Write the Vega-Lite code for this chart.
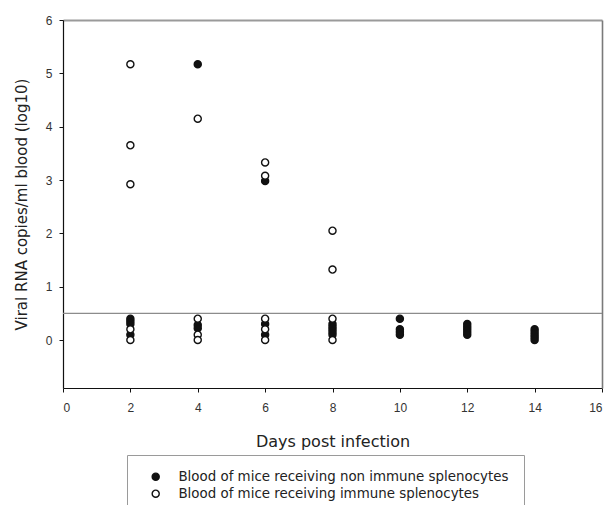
{
  "$schema": "https://vega.github.io/schema/vega-lite/v6.json",
  "width": 539,
  "height": 368,
  "autosize": {"type": "none"},
  "padding": {"left": 63, "top": 20, "right": 10, "bottom": 117},
  "background": "white",
  "config": {
    "font": "Liberation Sans",
    "view": {"stroke": null},
    "axis": {
      "domainColor": "#111",
      "domainWidth": 1.2,
      "tickColor": "#111",
      "tickSize": 4,
      "grid": false,
      "labelFont": "Liberation Sans",
      "labelFontSize": 12,
      "labelColor": "#333",
      "titleFont": "DejaVu Sans",
      "titleFontSize": 16,
      "titleFontWeight": "normal",
      "titleColor": "#222"
    }
  },
  "resolve": {"axis": {"x": "independent", "y": "independent"}},
  "datasets": {
    "viremia": [
      {"day": 4, "rna": 5.17, "group": "Blood of mice receiving non immune splenocytes"},
      {"day": 6, "rna": 2.98, "group": "Blood of mice receiving non immune splenocytes"},
      {"day": 2, "rna": 0.4, "group": "Blood of mice receiving non immune splenocytes"},
      {"day": 2, "rna": 0.35, "group": "Blood of mice receiving non immune splenocytes"},
      {"day": 2, "rna": 0.3, "group": "Blood of mice receiving non immune splenocytes"},
      {"day": 2, "rna": 0.1, "group": "Blood of mice receiving non immune splenocytes"},
      {"day": 4, "rna": 0.28, "group": "Blood of mice receiving non immune splenocytes"},
      {"day": 4, "rna": 0.22, "group": "Blood of mice receiving non immune splenocytes"},
      {"day": 6, "rna": 0.3, "group": "Blood of mice receiving non immune splenocytes"},
      {"day": 6, "rna": 0.1, "group": "Blood of mice receiving non immune splenocytes"},
      {"day": 8, "rna": 0.3, "group": "Blood of mice receiving non immune splenocytes"},
      {"day": 8, "rna": 0.25, "group": "Blood of mice receiving non immune splenocytes"},
      {"day": 8, "rna": 0.2, "group": "Blood of mice receiving non immune splenocytes"},
      {"day": 8, "rna": 0.15, "group": "Blood of mice receiving non immune splenocytes"},
      {"day": 8, "rna": 0.1, "group": "Blood of mice receiving non immune splenocytes"},
      {"day": 10, "rna": 0.4, "group": "Blood of mice receiving non immune splenocytes"},
      {"day": 10, "rna": 0.2, "group": "Blood of mice receiving non immune splenocytes"},
      {"day": 10, "rna": 0.15, "group": "Blood of mice receiving non immune splenocytes"},
      {"day": 10, "rna": 0.1, "group": "Blood of mice receiving non immune splenocytes"},
      {"day": 12, "rna": 0.3, "group": "Blood of mice receiving non immune splenocytes"},
      {"day": 12, "rna": 0.25, "group": "Blood of mice receiving non immune splenocytes"},
      {"day": 12, "rna": 0.2, "group": "Blood of mice receiving non immune splenocytes"},
      {"day": 12, "rna": 0.15, "group": "Blood of mice receiving non immune splenocytes"},
      {"day": 12, "rna": 0.1, "group": "Blood of mice receiving non immune splenocytes"},
      {"day": 14, "rna": 0.2, "group": "Blood of mice receiving non immune splenocytes"},
      {"day": 14, "rna": 0.15, "group": "Blood of mice receiving non immune splenocytes"},
      {"day": 14, "rna": 0.1, "group": "Blood of mice receiving non immune splenocytes"},
      {"day": 14, "rna": 0.05, "group": "Blood of mice receiving non immune splenocytes"},
      {"day": 14, "rna": 0.0, "group": "Blood of mice receiving non immune splenocytes"},
      {"day": 2, "rna": 5.17, "group": "Blood of mice receiving immune splenocytes"},
      {"day": 2, "rna": 3.65, "group": "Blood of mice receiving immune splenocytes"},
      {"day": 2, "rna": 2.92, "group": "Blood of mice receiving immune splenocytes"},
      {"day": 4, "rna": 4.15, "group": "Blood of mice receiving immune splenocytes"},
      {"day": 6, "rna": 3.33, "group": "Blood of mice receiving immune splenocytes"},
      {"day": 6, "rna": 3.08, "group": "Blood of mice receiving immune splenocytes"},
      {"day": 8, "rna": 2.05, "group": "Blood of mice receiving immune splenocytes"},
      {"day": 8, "rna": 1.32, "group": "Blood of mice receiving immune splenocytes"},
      {"day": 2, "rna": 0.2, "group": "Blood of mice receiving immune splenocytes"},
      {"day": 2, "rna": 0.0, "group": "Blood of mice receiving immune splenocytes"},
      {"day": 4, "rna": 0.4, "group": "Blood of mice receiving immune splenocytes"},
      {"day": 4, "rna": 0.1, "group": "Blood of mice receiving immune splenocytes"},
      {"day": 4, "rna": 0.0, "group": "Blood of mice receiving immune splenocytes"},
      {"day": 6, "rna": 0.4, "group": "Blood of mice receiving immune splenocytes"},
      {"day": 6, "rna": 0.2, "group": "Blood of mice receiving immune splenocytes"},
      {"day": 6, "rna": 0.0, "group": "Blood of mice receiving immune splenocytes"},
      {"day": 8, "rna": 0.4, "group": "Blood of mice receiving immune splenocytes"},
      {"day": 8, "rna": 0.0, "group": "Blood of mice receiving immune splenocytes"}
    ],
    "cutoff": [{"limit": 0.5}],
    "frame": [{"xEdge": 16, "yEdge": 6}]
  },
  "layer": [
    {
      "data": {"name": "cutoff"},
      "mark": {"type": "rule", "color": "#8c8c8c", "strokeWidth": 1.2},
      "encoding": {
        "y": {"field": "limit", "type": "quantitative", "scale": {"domain": [-0.9, 6]}, "axis": null}
      }
    },
    {
      "data": {"name": "frame"},
      "mark": {"type": "point", "opacity": 0},
      "encoding": {
        "x": {
          "field": "xEdge", "type": "quantitative",
          "axis": {"orient": "top", "title": null, "labels": false, "ticks": false, "domainColor": "#9a9a9a", "domainWidth": 2}
        },
        "y": {
          "field": "yEdge", "type": "quantitative",
          "axis": {"orient": "right", "title": null, "labels": false, "ticks": false, "domainColor": "#7a7a7a", "domainWidth": 1.6}
        }
      }
    },
    {
      "data": {"name": "viremia"},
      "mark": {"type": "point", "shape": "circle", "filled": true, "size": 50, "stroke": "#111", "strokeWidth": 1.4, "opacity": 1},
      "encoding": {
        "x": {
          "field": "day", "type": "quantitative",
          "scale": {"domain": [0, 16], "nice": false, "zero": false},
          "axis": {"orient": "bottom", "title": "Days post infection", "values": [0, 2, 4, 6, 8, 10, 12, 14, 16], "format": "d", "labelPadding": 10, "titlePadding": 20}
        },
        "y": {
          "field": "rna", "type": "quantitative",
          "scale": {"domain": [-0.9, 6], "nice": false, "zero": false},
          "axis": {"orient": "left", "title": "Viral RNA copies/ml blood (log10)", "values": [0, 1, 2, 3, 4, 5, 6], "format": "d", "labelPadding": 7, "titlePadding": 16, "titleFontSize": 15}
        },
        "fill": {
          "field": "group", "type": "nominal",
          "scale": {
            "domain": ["Blood of mice receiving non immune splenocytes", "Blood of mice receiving immune splenocytes"],
            "range": ["#111", "white"]
          },
          "legend": {
            "title": null,
            "orient": "none",
            "legendX": 64,
            "legendY": 435,
            "strokeColor": "#9a9a9a",
            "padding": 15,
            "symbolType": "circle",
            "symbolSize": 50,
            "symbolOffset": 7,
            "symbolStrokeColor": "#111",
            "symbolStrokeWidth": 1.4,
            "labelFont": "DejaVu Sans",
            "labelFontSize": 13.4,
            "labelColor": "#222",
            "labelOffset": 16,
            "labelLimit": 0,
            "rowPadding": 2
          }
        }
      }
    }
  ]
}
